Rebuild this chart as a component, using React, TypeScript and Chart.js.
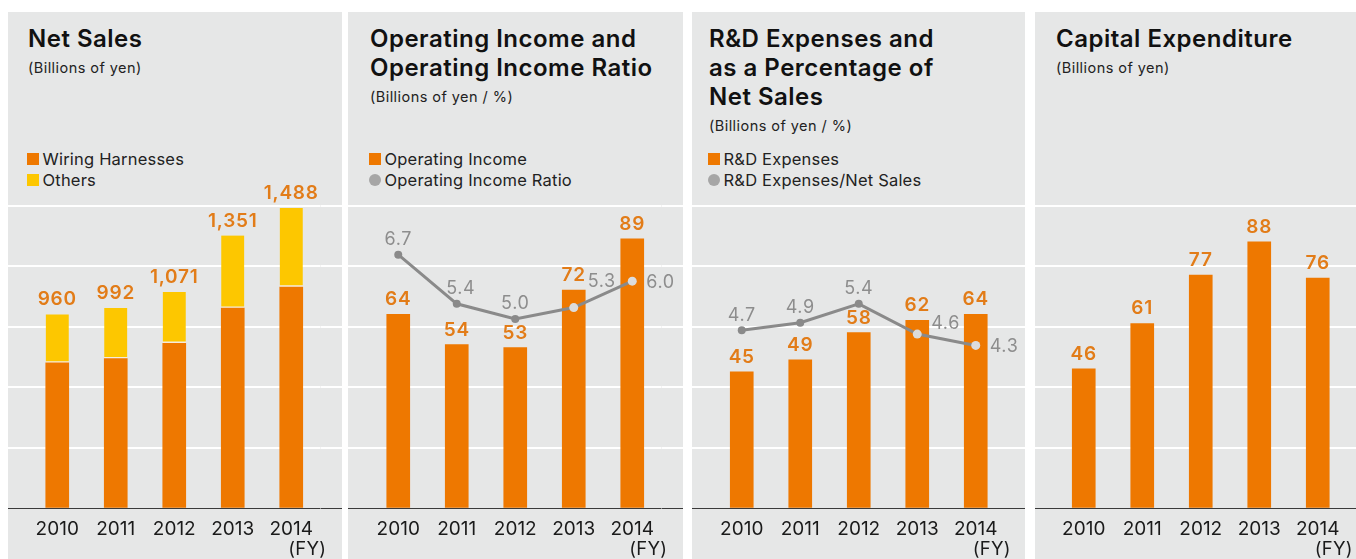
import React, { useEffect, useRef } from 'react';
import { Chart, registerables } from 'chart.js';

Chart.register(...registerables);

const FONT = 'Inter, "Open Sans", sans-serif';

// ---- data ----
const fiscalYears = ['2010', '2011', '2012', '2013', '2014'];
const wiringHarnesses = [720, 741, 817, 991, 1096];
const others = [240, 251, 254, 360, 392];
const netSalesTotals = [960, 992, 1071, 1351, 1488];
const operatingIncome = [64, 54, 53, 72, 89];
const operatingIncomeRatio = [6.7, 5.4, 5.0, 5.3, 6.0];
const rdExpenses = [45, 49, 58, 62, 64];
const rdExpensesRatio = [4.7, 4.9, 5.4, 4.6, 4.3];
const capitalExpenditure = [46, 61, 77, 88, 76];

// ---- styles ----
const ORANGE = '#ee7800';
const YELLOW = '#fdc700';
const LABEL_ORANGE = '#e27c18';
const GREY_LINE = '#8a8a8a';
const GREY_TEXT = '#8d8d8d';
const LIGHT_POINT = '#dcdcdc';
const PANEL_BG = '#e6e7e7';
const TEXT = '#1a1a1a';

type Placement = { dx: number; dy: number; align: CanvasTextAlign };
const TOP: Placement = { dx: 0, dy: -9.5, align: 'center' };
const RIGHT: Placement = { dx: 14, dy: 7, align: 'left' };
const opRatioPlacement: Placement[] = [TOP, { dx: 4, dy: -9.5, align: 'center' }, TOP, { dx: 14, dy: -20.5, align: 'left' }, RIGHT];
const rdRatioPlacement: Placement[] = [TOP, TOP, TOP, { dx: 14, dy: -5, align: 'left' }, RIGHT];
const pointColors = [GREY_LINE, GREY_LINE, GREY_LINE, LIGHT_POINT, LIGHT_POINT];
const pointRadii = [4, 4, 4, 4.5, 4.5];

const PANEL_TOP = 12;
const CANVAS_TOP = 120; // panel-relative
const CANVAS_H = 559 - PANEL_TOP - CANVAS_TOP;
const PLOT_TOP_ABS = 205.5;
const PLOT_BOTTOM_ABS = 508;
const PLOT_W = 292.5;

const labelPlugin = {
  id: 'valueLabels',
  afterDatasetsDraw(chart: any, _args: any, opts: any) {
    const ctx = chart.ctx as CanvasRenderingContext2D & { letterSpacing?: string };
    ctx.save();
    if (opts.barValues) {
      const metas = chart.data.datasets
        .map((_d: any, i: number) => chart.getDatasetMeta(i))
        .filter((m: any) => m.type === 'bar');
      ctx.font = `600 19px ${FONT}`;
      ctx.letterSpacing = '0.8px';
      ctx.fillStyle = LABEL_ORANGE;
      ctx.textAlign = 'center';
      ctx.textBaseline = 'alphabetic';
      opts.barValues.forEach((v: number, i: number) => {
        let top = Infinity;
        let x = 0;
        metas.forEach((m: any) => {
          const el = m.data[i];
          if (el && el.y < top) {
            top = el.y;
            x = el.x;
          }
        });
        ctx.fillText(v.toLocaleString('en-US'), x, top - 9);
      });
    }
    if (opts.lineValues) {
      const meta = chart.getDatasetMeta(opts.lineIndex);
      ctx.font = `400 18px ${FONT}`;
      ctx.letterSpacing = '0.6px';
      ctx.fillStyle = GREY_TEXT;
      ctx.textBaseline = 'alphabetic';
      opts.lineValues.forEach((v: number, i: number) => {
        const el = meta.data[i];
        const p: Placement = opts.placement[i];
        ctx.textAlign = p.align;
        ctx.fillText(v.toFixed(1), el.x + p.dx, el.y + p.dy);
      });
    }
    const xs = chart.scales.x;
    ctx.font = `400 18.5px ${FONT}`;
    ctx.letterSpacing = '0.3px';
    ctx.fillStyle = TEXT;
    ctx.textAlign = 'center';
    ctx.textBaseline = 'alphabetic';
    ctx.fillText('(FY)', xs.getPixelForValue(fiscalYears.length - 1) + 16, 554.5 - (PANEL_TOP + CANVAS_TOP));
    ctx.restore();
  },
};

type Spec = {
  left: number;
  width: number;
  textX: number;
  chartLeft: number;
  title: string[];
  subtitle: string;
  legend: { label: string; color: string; shape: 'square' | 'circle' }[];
  datasets: any[];
  stacked: boolean;
  yMax: number;
  y2Max: number;
  barValues: number[];
  lineValues?: number[];
  placement?: Placement[];
};

function makeConfig(spec: Spec): any {
  const gridColor = (c: any) => (c.index === 0 ? '#3a3a3a' : '#ffffff');
  const gridWidth = (c: any) => (c.index === 0 ? 1 : 2);
  const leftW = spec.chartLeft - spec.left;
  const rightW = spec.width - leftW - PLOT_W;
  const canvasTopAbs = PANEL_TOP + CANVAS_TOP;
  return {
    data: { labels: fiscalYears, datasets: spec.datasets },
    plugins: [labelPlugin],
    options: {
      animation: false,
      responsive: false,
      maintainAspectRatio: false,
      layout: { padding: { top: PLOT_TOP_ABS - canvasTopAbs, left: 0, right: 0, bottom: 0 } },
      plugins: {
        legend: { display: false },
        tooltip: { enabled: false },
        valueLabels: {
          barValues: spec.barValues,
          lineValues: spec.lineValues,
          lineIndex: 0,
          placement: spec.placement,
        },
      },
      scales: {
        x: {
          stacked: spec.stacked,
          offset: true,
          grid: { display: false },
          border: { display: false },
          ticks: { font: { family: FONT, size: 19 }, color: TEXT, padding: 2, maxRotation: 0, autoSkip: false },
          afterFit: (s: any) => {
            s.height = CANVAS_H - (PLOT_BOTTOM_ABS - canvasTopAbs);
          },
        },
        y: {
          position: 'left',
          stacked: spec.stacked,
          min: 0,
          max: spec.yMax,
          ticks: { display: false, count: 6 },
          border: { display: false },
          grid: { color: gridColor, lineWidth: gridWidth, tickLength: 40 },
          afterFit: (s: any) => {
            s.width = leftW;
          },
        },
        y2: {
          position: 'right',
          min: 0,
          max: spec.y2Max,
          ticks: { display: false, count: 6 },
          border: { display: false },
          grid: { color: gridColor, lineWidth: gridWidth, tickLength: 40, drawOnChartArea: false },
          afterFit: (s: any) => {
            s.width = rightW;
          },
        },
      },
    },
  };
}

const barBase = { type: 'bar', barThickness: 23, order: 2, yAxisID: 'y' };
const lineBase = {
  type: 'line',
  yAxisID: 'y2',
  order: 0,
  borderColor: GREY_LINE,
  borderWidth: 3,
  tension: 0,
  pointBackgroundColor: pointColors,
  pointBorderWidth: 0,
  pointRadius: pointRadii,
};

const specs: Spec[] = [
  {
    left: 8,
    width: 334,
    textX: 28,
    chartLeft: 28,
    title: ['Net Sales'],
    subtitle: '(Billions of yen)',
    legend: [
      { label: 'Wiring Harnesses', color: ORANGE, shape: 'square' },
      { label: 'Others', color: YELLOW, shape: 'square' },
    ],
    datasets: [
      { ...barBase, label: 'Wiring Harnesses', data: wiringHarnesses, backgroundColor: ORANGE },
      {
        ...barBase,
        label: 'Others',
        data: others,
        backgroundColor: YELLOW,
        borderColor: '#f4ece0',
        borderWidth: { bottom: 2, top: 0, left: 0, right: 0 },
        borderSkipped: false,
      },
    ],
    stacked: true,
    yMax: 1500,
    y2Max: 1,
    barValues: netSalesTotals,
  },
  {
    left: 348,
    width: 335,
    textX: 370,
    chartLeft: 369,
    title: ['Operating Income and', 'Operating Income Ratio'],
    subtitle: '(Billions of yen / %)',
    legend: [
      { label: 'Operating Income', color: ORANGE, shape: 'square' },
      { label: 'Operating Income Ratio', color: '#a6a6a6', shape: 'circle' },
    ],
    datasets: [
      { ...lineBase, label: 'Operating Income Ratio', data: operatingIncomeRatio },
      { ...barBase, label: 'Operating Income', data: operatingIncome, backgroundColor: ORANGE },
    ],
    stacked: false,
    yMax: 100,
    y2Max: 8,
    barValues: operatingIncome,
    lineValues: operatingIncomeRatio,
    placement: opRatioPlacement,
  },
  {
    left: 692,
    width: 333,
    textX: 709,
    chartLeft: 712.5,
    title: ['R&D Expenses and', 'as a Percentage of', 'Net Sales'],
    subtitle: '(Billions of yen / %)',
    legend: [
      { label: 'R&D Expenses', color: ORANGE, shape: 'square' },
      { label: 'R&D Expenses/Net Sales', color: '#a6a6a6', shape: 'circle' },
    ],
    datasets: [
      { ...lineBase, label: 'R&D Expenses/Net Sales', data: rdExpensesRatio },
      { ...barBase, label: 'R&D Expenses', data: rdExpenses, backgroundColor: ORANGE },
    ],
    stacked: false,
    yMax: 100,
    y2Max: 8,
    barValues: rdExpenses,
    lineValues: rdExpensesRatio,
    placement: rdRatioPlacement,
  },
  {
    left: 1035,
    width: 333,
    textX: 1056,
    chartLeft: 1054.5,
    title: ['Capital Expenditure'],
    subtitle: '(Billions of yen)',
    legend: [],
    datasets: [{ ...barBase, label: 'Capital Expenditure', data: capitalExpenditure, backgroundColor: ORANGE }],
    stacked: false,
    yMax: 100,
    y2Max: 1,
    barValues: capitalExpenditure,
  },
];

function Panel({ spec }: { spec: Spec }) {
  const ref = useRef<HTMLCanvasElement>(null);
  useEffect(() => {
    if (!ref.current) return;
    const chart = new Chart(ref.current, makeConfig(spec));
    return () => chart.destroy();
  }, [spec]);
  const tx = spec.textX - spec.left;
  return (
    <div
      style={{
        position: 'absolute',
        left: spec.left,
        top: PANEL_TOP,
        width: spec.width,
        height: 559 - PANEL_TOP,
        background: PANEL_BG,
        overflow: 'hidden',
      }}
    >
      <div
        style={{
          position: 'absolute',
          left: tx,
          top: 11.5,
          fontSize: 24,
          lineHeight: '29px',
          fontWeight: 600,
          letterSpacing: '0.5px',
          color: '#111',
          whiteSpace: 'nowrap',
        }}
      >
        {spec.title.map((t) => (
          <div key={t}>{t}</div>
        ))}
      </div>
      <div
        style={{
          position: 'absolute',
          left: tx,
          top: 12 + 29 * spec.title.length + 6.5,
          fontSize: 14.5,
          lineHeight: '16px',
          letterSpacing: '0.45px',
          color: '#222',
          whiteSpace: 'nowrap',
        }}
      >
        {spec.subtitle}
      </div>
      {spec.legend.map((item, i) => (
        <div
          key={item.label}
          style={{
            position: 'absolute',
            left: tx - 1,
            top: 136.5 + i * 21,
            height: 21,
            display: 'flex',
            alignItems: 'center',
            fontSize: 16.5,
            lineHeight: '21px',
            letterSpacing: '0.2px',
            color: '#222',
            whiteSpace: 'nowrap',
          }}
        >
          <span
            style={{
              display: 'inline-block',
              width: 12,
              height: 12,
              background: item.color,
              borderRadius: item.shape === 'circle' ? '50%' : 0,
              marginRight: 3.5,
            }}
          />
          <span>{item.label}</span>
        </div>
      ))}
      <canvas
        ref={ref}
        width={spec.width}
        height={CANVAS_H}
        style={{ position: 'absolute', left: 0, top: CANVAS_TOP, width: spec.width, height: CANVAS_H }}
      />
    </div>
  );
}

export default function App() {
  return (
    <div
      style={{
        position: 'fixed',
        left: 0,
        top: 0,
        width: 1356,
        height: 559,
        overflow: 'hidden',
        background: '#ffffff',
        fontFamily: FONT,
      }}
    >
      {specs.map((s) => (
        <Panel key={s.title.join(' ')} spec={s} />
      ))}
    </div>
  );
}
